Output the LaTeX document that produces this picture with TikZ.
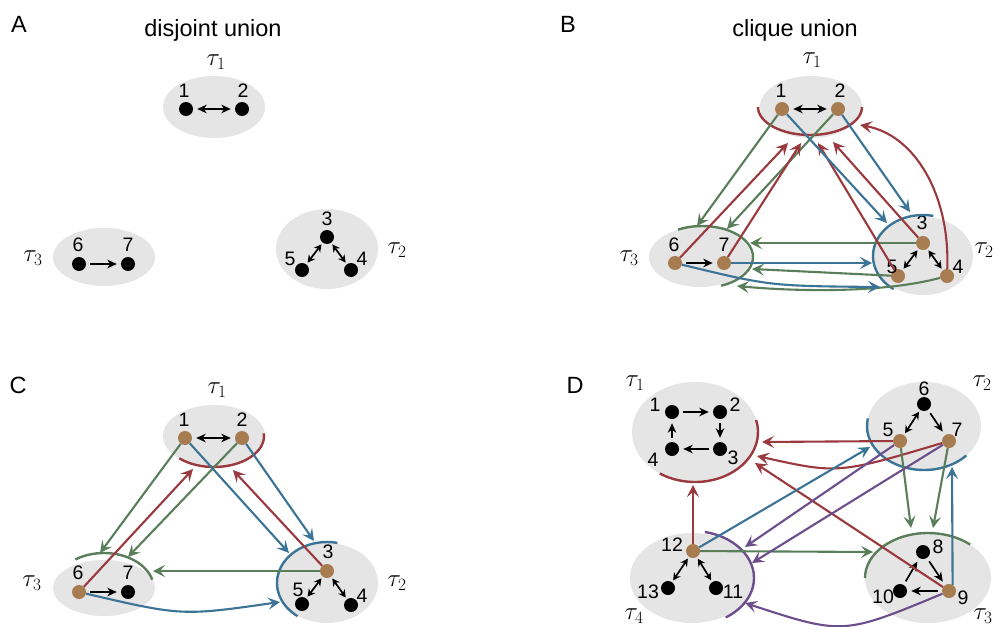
\documentclass[tikz,border=0pt]{standalone}
\usepackage{fontspec}
\setmainfont{Liberation Sans}
\usetikzlibrary{arrows.meta,shapes.geometric}
\definecolor{nodebrown}{HTML}{A77C50}
\definecolor{cred}{HTML}{9A3A3E}
\definecolor{cgreen}{HTML}{5A7E5A}
\definecolor{cblue}{HTML}{3B7496}
\definecolor{cpurple}{HTML}{6D4E8D}
\definecolor{grayfill}{HTML}{E5E5E5}
\begin{document}
\begin{tikzpicture}[x=1pt,y=-1pt,
  vtx/.style={circle, fill=black, inner sep=0pt, minimum size=14pt},
  bvtx/.style={vtx, fill=nodebrown},
  num/.style={font=\fontsize{19.5}{21}\selectfont, inner sep=0pt},
  taulab/.style={font=\fontsize{25}{28}\selectfont, inner sep=0pt},
  ttl/.style={font=\fontsize{23.5}{26}\selectfont, inner sep=0pt},
  grp/.style={fill=grayfill},
  blk/.style={line width=1.7pt, -{Stealth[length=9.5pt,width=8.5pt,inset=3pt]}, shorten >=4pt, shorten <=4pt},
  blkd/.style={line width=1.7pt, {Stealth[length=9.5pt,width=8.5pt,inset=3pt]}-{Stealth[length=9.5pt,width=8.5pt,inset=3pt]}, shorten >=4pt, shorten <=4pt},
  blks/.style={line width=1.7pt, {Stealth[length=7.5pt,width=8pt,inset=2.5pt]}-{Stealth[length=7.5pt,width=8pt,inset=2.5pt]}, shorten >=2pt, shorten <=2pt},
  carr/.style={line width=2.1pt, -{Stealth[length=12pt,width=12pt,inset=5pt]}},
  rarr/.style={carr, draw=cred},
  garr/.style={carr, draw=cgreen},
  barr/.style={carr, draw=cblue},
  parr/.style={carr, draw=cpurple},
  carc/.style={line width=2.4pt}
]
\fill[white] (0,0) rectangle (995,626);
\useasboundingbox (0,0) rectangle (995,626);

% ================= Panel A =================
\node[ttl] (lA) at (19,24) {A};
\node[ttl, anchor=base] (tA) at (213,37) {disjoint union};
\fill[grp] (214,107) ellipse[x radius=51, y radius=31];
\fill[grp] (104,257) ellipse[x radius=51, y radius=29];
\fill[grp] (327,249) ellipse[x radius=51, y radius=40];
\node[taulab] (tauA1) at (216,62) {$\tau_1$};
\node[taulab] (tauA3) at (33,258) {$\tau_3$};
\node[taulab] (tauA2) at (397,250) {$\tau_2$};
\node[vtx] (a1) at (186,109) {};
\node[vtx] (a2) at (242,109) {};
\node[vtx] (a6) at (79,264) {};
\node[vtx] (a7) at (128,264) {};
\node[vtx] (a3) at (327,237) {};
\node[vtx] (a5) at (302,270) {};
\node[vtx] (a4) at (351,270) {};
\node[num] (la1) at (184,91) {1};
\node[num] (la2) at (243,91) {2};
\node[num] (la6) at (78,245) {6};
\node[num] (la7) at (128,245) {7};
\node[num] (la3) at (327,219) {3};
\node[num] (la5) at (290,259) {5};
\node[num] (la4) at (362,259) {4};
\draw[blkd] (a1) -- (a2);
\draw[blk] (a6) -- (a7);
\draw[blks] (a3) -- (a5);
\draw[blks] (a3) -- (a4);

% ================= Panel B =================
\node[ttl] (lB) at (568,24) {B};
\node[ttl, anchor=base] (tB) at (795,37) {clique union};
\fill[grp] (811,107) ellipse[x radius=51, y radius=31];
\fill[grp] (700,257) ellipse[x radius=51, y radius=30];
\fill[grp] (923,256) ellipse[x radius=50, y radius=39];
\node[taulab] (tauB1) at (812,60) {$\tau_1$};
\node[taulab] (tauB3) at (629,258) {$\tau_3$};
\node[taulab] (tauB2) at (984,250) {$\tau_2$};
\node[bvtx] (b1) at (782,109) {};
\node[bvtx] (b2) at (838,109) {};
\node[bvtx] (b6) at (675,263) {};
\node[bvtx] (b7) at (724,263) {};
\node[bvtx] (b3) at (923,243) {};
\node[bvtx] (b5) at (898,276) {};
\node[bvtx] (b4) at (947,276) {};
\node[num] (lb1) at (781,91) {1};
\node[num] (lb2) at (840,91) {2};
\node[num] (lb6) at (674,245) {6};
\node[num] (lb7) at (724,245) {7};
\node[num] (lb3) at (922,223) {3};
\node[num] (lb5) at (892,267) {5};
\node[num] (lb4) at (958,267) {4};
\draw[blkd] (b1) -- (b2);
\draw[blk] (b6) -- (b7);
\draw[blks] (b3) -- (b5);
\draw[blks] (b3) -- (b4);
% group arcs
\draw[carc, cred] (810,107) ++(-180:52 and 28) arc[start angle=-180, end angle=-360, x radius=52, y radius=28];
\draw[carc, cgreen] (702,257) ++(-118:51 and 31) arc[start angle=-118, end angle=68, x radius=51, y radius=31];
\draw[carc, cblue] (923,256) ++(-78:50 and 41) arc[start angle=-78, end angle=-234, x radius=50, y radius=41];
% end points
\coordinate (Bg1) at (697,226);
\coordinate (Bg2) at (727,229);
\coordinate (Bg3) at (750,243);
\coordinate (Bg4) at (752,269);
\coordinate (Bg5) at (737,286);
\coordinate (Br1) at (788,143);
\coordinate (Br2) at (801,143);
\coordinate (Br3) at (818,143);
\coordinate (Br4) at (833,142);
\coordinate (Br5) at (860,125);
\coordinate (Bb1) at (887,223);
\coordinate (Bb2) at (910,212);
\coordinate (Bb3) at (872,263);
\coordinate (Bb4) at (880,287);
\draw[garr] (b1) -- (Bg1);
\draw[garr] (b2) -- (Bg2);
\draw[garr] (b3) -- (Bg3);
\draw[garr] (b5) -- (Bg4);
\draw[garr] (b4) .. controls (880,294) and (790,291) .. (Bg5);
\draw[rarr] (b6) -- (Br1);
\draw[rarr] (b7) -- (Br2);
\draw[rarr] (b5) -- (Br3);
\draw[rarr] (b3) -- (Br4);
\draw[rarr] (b4) .. controls (950,195) and (915,135) .. (Br5);
\draw[barr] (b1) -- (Bb1);
\draw[barr] (b2) -- (Bb2);
\draw[barr] (b7) -- (Bb3);
\draw[barr] (b6) .. controls (770,286) .. (Bb4);

% ================= Panel C =================
\node[ttl] (lC) at (18,385) {C};
\fill[grp] (214,436) ellipse[x radius=51, y radius=31];
\fill[grp] (104,588) ellipse[x radius=51, y radius=28];
\fill[grp] (327,583) ellipse[x radius=51, y radius=40];
\node[taulab] (tauC1) at (217,390) {$\tau_1$};
\node[taulab] (tauC3) at (32,583) {$\tau_3$};
\node[taulab] (tauC2) at (397,583) {$\tau_2$};
\node[bvtx] (c1) at (185,438) {};
\node[bvtx] (c2) at (242,438) {};
\node[bvtx] (c6) at (79,592) {};
\node[vtx] (c7) at (128,592) {};
\node[bvtx] (c3) at (327,571) {};
\node[vtx] (c5) at (302,604) {};
\node[vtx] (c4) at (351,605) {};
\node[num] (lc1) at (184,420) {1};
\node[num] (lc2) at (242,420) {2};
\node[num] (lc6) at (78,573) {6};
\node[num] (lc7) at (128,573) {7};
\node[num] (lc3) at (328,552) {3};
\node[num] (lc5) at (298,590) {5};
\node[num] (lc4) at (362,596) {4};
\draw[blkd] (c1) -- (c2);
\draw[blk] (c6) -- (c7);
\draw[blks] (c3) -- (c5);
\draw[blks] (c3) -- (c4);
\draw[carc, cred] (214,436) ++(-226:50 and 31) arc[start angle=-226, end angle=-365, x radius=50, y radius=31];
\draw[carc, cgreen] (104,589) ++(-125:50 and 36) arc[start angle=-125, end angle=-15, x radius=50, y radius=36];
\draw[carc, cblue] (327,583) ++(-78:50 and 41) arc[start angle=-78, end angle=-234, x radius=50, y radius=41];
\coordinate (Cg1) at (100,553);
\coordinate (Cg2) at (128,557);
\coordinate (Cg3) at (153,571);
\coordinate (Cr1) at (193,469);
\coordinate (Cr2) at (233,470);
\coordinate (Cb1) at (289,553);
\coordinate (Cb2) at (314,541);
\coordinate (Cb3) at (280,602);
\draw[garr] (c1) -- (Cg1);
\draw[garr] (c2) -- (Cg2);
\draw[garr] (c3) -- (Cg3);
\draw[rarr] (c6) -- (Cr1);
\draw[rarr] (c3) -- (Cr2);
\draw[barr] (c1) -- (Cb1);
\draw[barr] (c2) -- (Cb2);
\draw[barr] (c6) .. controls (182,616) .. (Cb3);

% ================= Panel D =================
\node[ttl] (lD) at (575,385) {D};
\fill[grp] (695,432) ellipse[x radius=63, y radius=50];
\fill[grp] (924,426) ellipse[x radius=57, y radius=44];
\fill[grp] (928,578) ellipse[x radius=63, y radius=45];
\fill[grp] (692,578) ellipse[x radius=62, y radius=45];
\node[taulab] (tauD1) at (635,383) {$\tau_1$};
\node[taulab] (tauD2) at (982,383) {$\tau_2$};
\node[taulab] (tauD3) at (983,616) {$\tau_3$};
\node[taulab] (tauD4) at (634,616) {$\tau_4$};
\node[vtx] (d1) at (672,412) {};
\node[vtx] (d2) at (720,412) {};
\node[vtx] (d3) at (720,449) {};
\node[vtx] (d4) at (672,449) {};
\node[vtx] (d6) at (924,404) {};
\node[bvtx] (d5) at (900,441) {};
\node[bvtx] (d7) at (949,441) {};
\node[vtx] (d8) at (923,552) {};
\node[bvtx] (d9) at (949,591) {};
\node[vtx] (d10) at (900,591) {};
\node[bvtx] (d12) at (693,551) {};
\node[vtx] (d13) at (668,588) {};
\node[vtx] (d11) at (716,588) {};
\node[num] (ld1) at (655,405) {1};
\node[num] (ld2) at (735,405) {2};
\node[num] (ld3) at (733,458) {3};
\node[num] (ld4) at (653,460) {4};
\node[num] (ld6) at (924,389) {6};
\node[num] (ld5) at (888,430) {5};
\node[num] (ld7) at (957,430) {7};
\node[num] (ld8) at (938,547) {8};
\node[num] (ld9) at (963,598) {9};
\node[num] (ld10) at (883,597) {10};
\node[num] (ld12) at (672,545) {12};
\node[num] (ld13) at (648,592) {13};
\node[num] (ld11) at (733,592) {11};
\draw[blk] (d1) -- (d2);
\draw[blk] (d2) -- (d3);
\draw[blk] (d3) -- (d4);
\draw[blk] (d4) -- (d1);
\draw[blks] (d6) -- (d5);
\draw[blk] (d6) -- (d7);
\draw[blk] (d8) -- (d9);
\draw[blk] (d9) -- (d10);
\draw[blk] (d10) -- (d8);
\draw[blks] (d12) -- (d13);
\draw[blks] (d12) -- (d11);
\draw[carc, cred] (695,432) ++(-14:63 and 50) arc[start angle=-14, end angle=124, x radius=63, y radius=50];
\draw[carc, cblue] (924,426) ++(-170:57 and 44) arc[start angle=-170, end angle=-318, x radius=57, y radius=44];
\draw[carc, cgreen] (928,578) ++(-180:63 and 45) arc[start angle=-180, end angle=-48, x radius=63, y radius=45];
\draw[carc, cpurple] (692,578) ++(-78:62 and 47) arc[start angle=-78, end angle=57, x radius=62, y radius=47];
\coordinate (Dr1) at (762,442);
\coordinate (Dr2) at (757,456);
\coordinate (Dr3) at (755,463);
\coordinate (Dr4) at (693,485);
\coordinate (Db1) at (870,447);
\coordinate (Db2) at (952,467);
\coordinate (Dg1) at (873,552);
\coordinate (Dg2) at (911,528);
\coordinate (Dg3) at (933,528);
\coordinate (Dp1) at (745,547);
\coordinate (Dp2) at (752,563);
\coordinate (Dp3) at (745,603);
\draw[rarr] (d5) -- (Dr1);
\draw[rarr] (d7) .. controls (838,474) .. (Dr2);
\draw[rarr] (d9) -- (Dr3);
\draw[rarr] (d12) -- (Dr4);
\draw[barr] (d12) -- (Db1);
\draw[barr] (d9.60) -- (Db2);
\draw[garr] (d12) -- (Dg1);
\draw[garr] (d5) -- (Dg2);
\draw[garr] (d7) -- (Dg3);
\draw[parr] (d5) -- (Dp1);
\draw[parr] (d7) -- (Dp2);
\draw[parr] (d9) .. controls (843,635) .. (Dp3);
\end{tikzpicture}
\end{document}
